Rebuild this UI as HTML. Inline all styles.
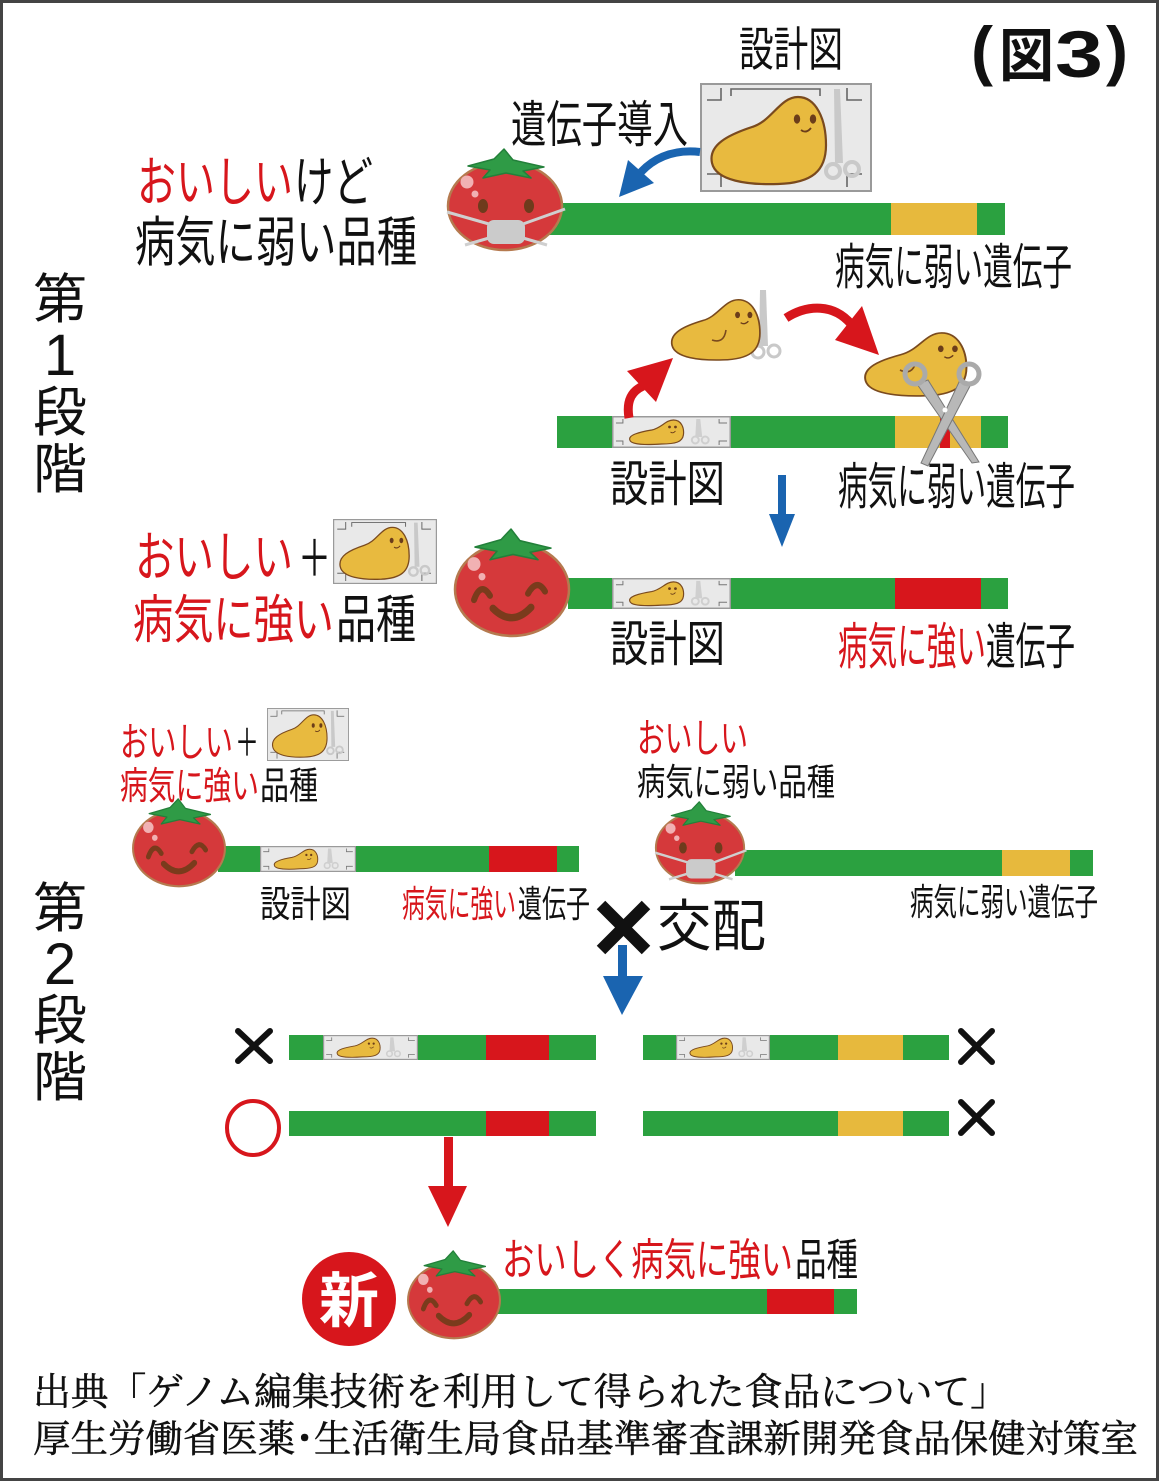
<!DOCTYPE html>
<html><head><meta charset="utf-8"><style>
html,body{margin:0;padding:0;background:#fff;}
svg{display:block;}
.s{font-family:"Liberation Sans","Noto Sans CJK JP",sans-serif;}
.m{font-family:"Liberation Serif","Noto Serif CJK SC",serif;}
</style></head><body>
<svg width="1159" height="1481" viewBox="0 0 1159 1481" xmlns="http://www.w3.org/2000/svg">
<defs>
 <g id="blobg">
  <path d="M 12 80 C 8 62, 28 52, 52 44 C 72 38, 80 14, 98 14 C 116 14, 126 36, 126 62 C 126 88, 112 100, 78 101 C 48 102, 16 98, 12 80 Z" fill="#e8ba3f" stroke="#7a4a1e" stroke-width="2.2"/>
  <ellipse cx="97" cy="36" rx="3.2" ry="4.6" fill="#6b3d1a"/>
  <ellipse cx="113" cy="36" rx="3.2" ry="4.6" fill="#6b3d1a"/>
  <path d="M101 47 Q106 51 111 45" stroke="#6b3d1a" stroke-width="1.8" fill="none"/>
 </g>
 <symbol id="card" viewBox="0 0 172 109" preserveAspectRatio="none">
  <rect x="1" y="1" width="170" height="107" fill="#e9e9e9" stroke="#9a9a9a" stroke-width="2"/>
  <g stroke="#666" stroke-width="1.6" fill="none">
   <path d="M7 17 H21 V5"/>
   <path d="M31 13 V6 H120 V13"/>
   <path d="M147 5 V17 H162"/>
   <path d="M7 91 H21 V104"/>
   <path d="M162 91 H147 V104"/>
  </g>
  <g fill="none" stroke="#c9c9c9" stroke-width="4"><circle cx="133" cy="88" r="7"/><circle cx="152" cy="86" r="7"/></g>
  <path d="M134 6 L140 6 L143 80 L135 80 Z" fill="#c9c9c9"/>
  <use href="#blobg"/>
 </symbol>
 <symbol id="mini" viewBox="0 0 120 32" preserveAspectRatio="none">
  <rect x="0.75" y="0.75" width="118.5" height="30.5" fill="#e9e9e9" stroke="#9a9a9a" stroke-width="1.5"/>
  <g stroke="#777" stroke-width="1" fill="none">
   <path d="M4 7 H11 V3"/><path d="M108 3 V7 H116"/><path d="M4 25 H11 V29"/><path d="M116 25 H108 V29"/>
  </g>
  <path d="M85 3 L89 3 L91 21 L84 21 Z" fill="#cfcfcf"/>
  <g fill="none" stroke="#cfcfcf" stroke-width="2"><circle cx="84" cy="24" r="3.5"/><circle cx="94" cy="24" r="3.5"/></g>
  <path d="M18 24 C16 19, 28 16, 40 14 C50 12, 54 4, 62 4 C70 4, 73 12, 72 19 C71 26, 64 28, 50 28 C36 29, 19 29, 18 24 Z" fill="#e8ba3f" stroke="#7a4a1e" stroke-width="1.2"/>
  <circle cx="58" cy="11" r="1.4" fill="#6b3d1a"/><circle cx="64" cy="11" r="1.4" fill="#6b3d1a"/>
  <path d="M59 16 Q61.5 18 64 15" stroke="#6b3d1a" stroke-width="0.9" fill="none"/>
 </symbol>
 <symbol id="blob" viewBox="8 10 122 94" preserveAspectRatio="none">
  <use href="#blobg"/>
 </symbol>
 <g id="tbase">
  <ellipse cx="62" cy="58" rx="57" ry="44" fill="#d5393b" stroke="#b57a4f" stroke-width="2.5"/>
  <polygon points="61,1 70,12 101,19 80,23 88,30 63,25 40,30 47,22 25,18 51,11" fill="#2f9b46" stroke="#23803a" stroke-width="1.5" stroke-linejoin="round"/>
  <circle cx="24" cy="34" r="6.5" fill="#f1b1b3"/>
  <circle cx="32" cy="46" r="3.5" fill="#f1b1b3"/>
 </g>
 <symbol id="tmask" viewBox="0 0 124 104" preserveAspectRatio="none">
  <use href="#tbase"/>
  <ellipse cx="40" cy="58" rx="5" ry="7" fill="#6e3b1c"/>
  <ellipse cx="86" cy="58" rx="5" ry="7" fill="#6e3b1c"/>
  <g stroke="#cfcfcf" stroke-width="3" fill="none"><path d="M46 76 L4 64"/><path d="M46 90 L22 97"/><path d="M80 76 L122 61"/><path d="M80 90 L104 97"/></g>
  <rect x="44" y="72" width="38" height="24" rx="7" fill="#cbcbcb"/>
 </symbol>
 <symbol id="thappy" viewBox="0 0 124 104" preserveAspectRatio="none">
  <use href="#tbase"/>
  <g stroke="#7a3b1c" stroke-width="6" fill="none" stroke-linecap="round">
   <path d="M24 68 Q31 50 40 64"/>
   <path d="M78 62 Q87 47 95 60"/>
   <path d="M43 76 Q62 94 81 75" stroke-width="7"/>
  </g>
 </symbol>
</defs>

<rect x="1.5" y="1.5" width="1156" height="1478" fill="#fff" stroke="#444" stroke-width="3"/>

<!-- title -->
<text x="971" y="73" class="s" font-size="66" font-weight="bold" fill="#111" textLength="22" lengthAdjust="spacingAndGlyphs">(</text>
<text x="999" y="76" class="s" font-size="58" font-weight="bold" fill="#111" textLength="55" lengthAdjust="spacingAndGlyphs">図</text>
<text x="1055" y="77" class="s" font-size="66" font-weight="bold" fill="#111" textLength="48" lengthAdjust="spacingAndGlyphs">3</text>
<text x="1106" y="73" class="s" font-size="66" font-weight="bold" fill="#111" textLength="22" lengthAdjust="spacingAndGlyphs">)</text>

<!-- ===== Stage 1 ===== -->
<text x="739" y="66" class="s" font-size="47" fill="#111" textLength="104" lengthAdjust="spacingAndGlyphs">設計図</text>
<use href="#card" x="700" y="83" width="172" height="109"/>
<text x="511" y="142" class="s" font-size="50" fill="#111" textLength="177" lengthAdjust="spacingAndGlyphs">遺伝子導入</text>

<!-- blue curved arrow -->
<path d="M700 152 Q664 148 641 172" stroke="#1a64b0" stroke-width="8" fill="none"/>
<polygon points="619,197 628,160 654,183" fill="#1a64b0"/>

<text x="137" y="201" class="s" font-size="54" fill="#d7161c" textLength="156" lengthAdjust="spacingAndGlyphs">おいしい</text>
<text x="294" y="201" class="s" font-size="54" fill="#111" textLength="79" lengthAdjust="spacingAndGlyphs">けど</text>
<text x="135" y="261" class="s" font-size="54" fill="#111" textLength="282" lengthAdjust="spacingAndGlyphs">病気に弱い品種</text>

<rect x="548" y="203" width="457" height="32" fill="#2ba140"/>
<rect x="891" y="203" width="86" height="32" fill="#e7b93d"/>
<use href="#tmask" x="443" y="148" width="124" height="104"/>
<text x="835" y="284" class="s" font-size="49" fill="#111" textLength="237" lengthAdjust="spacingAndGlyphs">病気に弱い遺伝子</text>

<!-- vertical label 1 -->
<g class="s" font-size="54" fill="#111" text-anchor="middle">
 <text x="60" y="318">第</text>
 <text x="60" y="375" font-size="58">1</text>
 <text x="60" y="431">段</text>
 <text x="60" y="488">階</text>
</g>

<!-- row 2 -->
<rect x="557" y="416" width="451" height="32" fill="#2ba140"/>
<use href="#mini" x="612" y="416" width="119" height="32"/>
<rect x="895" y="416" width="86" height="32" fill="#e7b93d"/>
<rect x="940" y="416" width="10" height="32" fill="#d7161c"/>

<!-- creature 1 with small scissors -->
<path d="M760 290 L766 290 L768 346 L759 346 Z" fill="#c9c9c9"/>
<g fill="none" stroke="#c9c9c9" stroke-width="3"><circle cx="758" cy="352" r="6"/><circle cx="774" cy="351" r="6"/></g>
<use href="#blob" x="669" y="297" width="94" height="65"/>
<path d="M712 340 Q724 344 726 330" stroke="#7a4a1e" stroke-width="1.6" fill="none"/>

<!-- creature 2 with big scissors -->
<use href="#blob" x="862" y="330" width="108" height="68"/>
<path d="M900 370 Q912 376 916 362" stroke="#7a4a1e" stroke-width="1.6" fill="none"/>
<g fill="#b8b8b8" stroke="#777" stroke-width="1">
 <polygon points="917,384 928,380 979,462 972,463"/>
 <polygon points="960,380 970,386 928,466 921,463"/>
</g>
<g fill="none" stroke="#aaa" stroke-width="5"><circle cx="915" cy="374" r="10"/><circle cx="969" cy="374" r="10"/></g>
<circle cx="945" cy="410" r="2.5" fill="#fff"/>

<!-- red arrows -->
<path d="M629 418 C626 400, 632 391, 643 386" stroke="#d7161c" stroke-width="9" fill="none"/>
<polygon points="673,358 627,371 656,402" fill="#d7161c"/>
<path d="M786 318 C808 304, 834 304, 851 324" stroke="#d7161c" stroke-width="9" fill="none"/>
<polygon points="879,355 835,340 862,306" fill="#d7161c"/>

<text x="610" y="501" class="s" font-size="49" fill="#111" textLength="115" lengthAdjust="spacingAndGlyphs">設計図</text>
<text x="838" y="504" class="s" font-size="50" fill="#111" textLength="237" lengthAdjust="spacingAndGlyphs">病気に弱い遺伝子</text>

<!-- blue down arrow -->
<rect x="778" y="475" width="8" height="44" fill="#1a64b0"/>
<polygon points="769,514 795,514 782,547" fill="#1a64b0"/>

<!-- row 3 -->
<text x="135" y="576" class="s" font-size="54" fill="#d7161c" textLength="158" lengthAdjust="spacingAndGlyphs">おいしい</text>
<text x="298" y="576" class="s" font-size="50" fill="#111" textLength="33" lengthAdjust="spacingAndGlyphs">＋</text>
<use href="#card" x="333" y="519" width="104" height="65"/>
<text x="133" y="638" class="s" font-size="52" fill="#d7161c" textLength="201" lengthAdjust="spacingAndGlyphs">病気に強い</text>
<text x="336" y="638" class="s" font-size="52" fill="#111" textLength="80" lengthAdjust="spacingAndGlyphs">品種</text>

<rect x="568" y="578" width="440" height="31" fill="#2ba140"/>
<use href="#mini" x="612" y="578" width="119" height="31"/>
<rect x="895" y="578" width="86" height="31" fill="#d7161c"/>
<use href="#thappy" x="450" y="528" width="124" height="110"/>

<text x="610" y="661" class="s" font-size="49" fill="#111" textLength="115" lengthAdjust="spacingAndGlyphs">設計図</text>
<text x="838" y="664" class="s" font-size="50" fill="#d7161c" textLength="148" lengthAdjust="spacingAndGlyphs">病気に強い</text>
<text x="986" y="664" class="s" font-size="50" fill="#111" textLength="89" lengthAdjust="spacingAndGlyphs">遺伝子</text>

<!-- ===== Stage 2 ===== -->
<g class="s" font-size="54" fill="#111" text-anchor="middle">
 <text x="60" y="927">第</text>
 <text x="60" y="984" font-size="58">2</text>
 <text x="60" y="1039">段</text>
 <text x="60" y="1096">階</text>
</g>

<text x="120" y="756" class="s" font-size="40" fill="#d7161c" textLength="113" lengthAdjust="spacingAndGlyphs">おいしい</text>
<text x="235" y="756" class="s" font-size="38" fill="#111" textLength="24" lengthAdjust="spacingAndGlyphs">＋</text>
<use href="#card" x="267" y="708" width="82" height="53"/>
<text x="120" y="799" class="s" font-size="38" fill="#d7161c" textLength="139" lengthAdjust="spacingAndGlyphs">病気に強い</text>
<text x="260" y="799" class="s" font-size="38" fill="#111" textLength="58" lengthAdjust="spacingAndGlyphs">品種</text>

<rect x="218" y="846" width="361" height="26" fill="#2ba140"/>
<use href="#mini" x="260" y="846" width="96" height="26"/>
<rect x="489" y="846" width="68" height="26" fill="#d7161c"/>
<use href="#thappy" x="129" y="798" width="100" height="90"/>

<text x="260" y="917" class="s" font-size="37" fill="#111" textLength="91" lengthAdjust="spacingAndGlyphs">設計図</text>
<text x="402" y="917" class="s" font-size="37" fill="#d7161c" textLength="114" lengthAdjust="spacingAndGlyphs">病気に強い</text>
<text x="518" y="917" class="s" font-size="37" fill="#111" textLength="72" lengthAdjust="spacingAndGlyphs">遺伝子</text>

<text x="637" y="752" class="s" font-size="40" fill="#d7161c" textLength="111" lengthAdjust="spacingAndGlyphs">おいしい</text>
<text x="637" y="795" class="s" font-size="37" fill="#111" textLength="198" lengthAdjust="spacingAndGlyphs">病気に弱い品種</text>

<rect x="735" y="850" width="358" height="26" fill="#2ba140"/>
<rect x="1002" y="850" width="68" height="26" fill="#e7b93d"/>
<use href="#tmask" x="652" y="801" width="96" height="84"/>
<text x="910" y="915" class="s" font-size="37" fill="#111" textLength="188" lengthAdjust="spacingAndGlyphs">病気に弱い遺伝子</text>

<!-- cross -->
<g stroke="#111" stroke-width="12"><line x1="601" y1="905" x2="646" y2="950"/><line x1="646" y1="905" x2="601" y2="950"/></g>
<text x="657" y="946" class="s" font-size="56" fill="#111" textLength="109" lengthAdjust="spacingAndGlyphs">交配</text>
<rect x="618" y="945" width="9" height="35" fill="#1a64b0"/>
<polygon points="603,976 643,976 622,1015" fill="#1a64b0"/>

<!-- offspring -->
<rect x="289" y="1035" width="307" height="25" fill="#2ba140"/>
<use href="#mini" x="323" y="1035" width="95" height="25"/>
<rect x="486" y="1035" width="63" height="25" fill="#d7161c"/>

<rect x="643" y="1035" width="306" height="25" fill="#2ba140"/>
<use href="#mini" x="676" y="1035" width="94" height="25"/>
<rect x="838" y="1035" width="65" height="25" fill="#e7b93d"/>

<rect x="289" y="1111" width="307" height="25" fill="#2ba140"/>
<rect x="486" y="1111" width="63" height="25" fill="#d7161c"/>

<rect x="643" y="1111" width="306" height="25" fill="#2ba140"/>
<rect x="838" y="1111" width="65" height="25" fill="#e7b93d"/>

<g stroke="#111" stroke-width="6" stroke-linecap="round">
 <line x1="238" y1="1031" x2="270" y2="1061"/><line x1="270" y1="1031" x2="238" y2="1061"/>
 <line x1="961" y1="1031" x2="992" y2="1062"/><line x1="992" y1="1031" x2="961" y2="1062"/>
 <line x1="961" y1="1102" x2="992" y2="1133"/><line x1="992" y1="1102" x2="961" y2="1133"/>
</g>
<ellipse cx="253" cy="1128" rx="26" ry="27" fill="none" stroke="#d7161c" stroke-width="4"/>

<!-- red down arrow -->
<rect x="444" y="1137" width="9" height="55" fill="#d7161c"/>
<polygon points="428,1186 467,1186 448,1227" fill="#d7161c"/>

<!-- final -->
<circle cx="349" cy="1299" r="47" fill="#d7161c"/>
<text x="349" y="1322" class="s" font-size="60" font-weight="bold" fill="#fff" text-anchor="middle">新</text>
<rect x="490" y="1289" width="367" height="25" fill="#2ba140"/>
<rect x="767" y="1289" width="67" height="25" fill="#d7161c"/>
<use href="#thappy" x="404" y="1250" width="100" height="90"/>
<text x="502" y="1275" class="s" font-size="44" fill="#d7161c" textLength="291" lengthAdjust="spacingAndGlyphs">おいしく病気に強い</text>
<text x="795" y="1275" class="s" font-size="44" fill="#111" textLength="63" lengthAdjust="spacingAndGlyphs">品種</text>

<!-- footer -->
<g class="m" font-size="38" fill="#111" stroke="#111" stroke-width="0.5">
<text x="33" y="1405" textLength="975" lengthAdjust="spacingAndGlyphs">出典「ゲノム編集技術を利用して得られた食品について」</text>
<text x="33" y="1452" textLength="1105" lengthAdjust="spacingAndGlyphs">厚生労働省医薬･生活衛生局食品基準審査課新開発食品保健対策室</text>
</g>
</svg>
</body></html>
